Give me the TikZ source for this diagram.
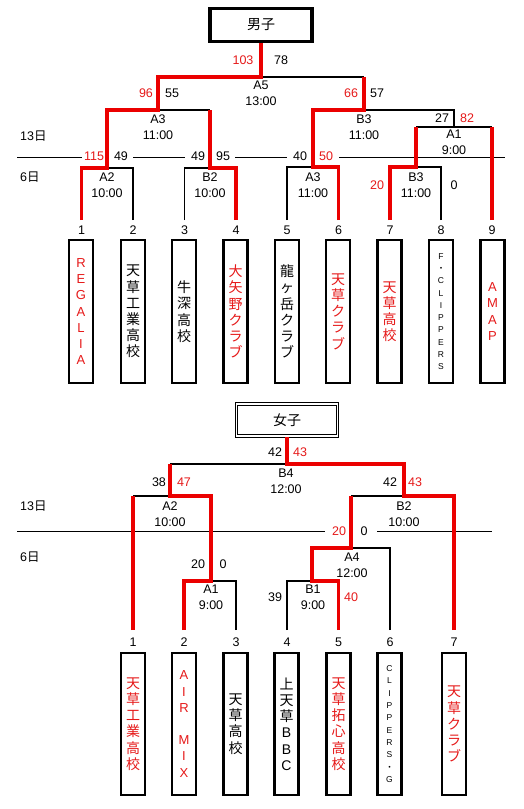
\documentclass[tikz,border=0pt]{standalone}
\usepackage{fontspec}
\setmainfont{Liberation Sans}
\newfontfamily\jp{Noto Sans CJK JP}
\definecolor{wred}{RGB}{235,0,0}
\definecolor{tred}{RGB}{230,25,25}
\begin{document}
\begin{tikzpicture}[x=1pt,y=-1pt,
  blk/.style={line width=1.3pt, black},
  win/.style={line width=3.6pt, wred},
  sc/.style={font=\fontsize{12.5}{14}\selectfont, inner sep=0pt},
  scr/.style={sc, text=tred},
  mlab/.style={font=\fontsize{12.5}{16}\selectfont, align=center, inner sep=0pt},
  num/.style={font=\fontsize{12.5}{14}\selectfont, inner sep=0pt},
  team/.style={draw, line width=2.2pt, minimum width=24pt, inner sep=0pt, anchor=north, align=center},
  mteam/.style={team, minimum height=143pt},
  fteam/.style={team, minimum height=142pt},
  vj/.style={font=\jp\fontsize{14}{16.2}\selectfont},
  vl/.style={font=\fontsize{13}{16.2}\selectfont},
  vs/.style={font=\fontsize{8.5}{12.3}\selectfont},
  rt/.style={text=tred},
  day/.style={font=\fontsize{12.5}{14}\selectfont, anchor=west, inner sep=0pt},
  divl/.style={line width=1pt}
]
\useasboundingbox (0,0) rectangle (524,809);
\fill[white] (0,0) rectangle (524,809);

% ================= MALE =================
\node[draw, line width=3.3pt, minimum width=102pt, minimum height=33pt, inner sep=0pt,
      font=\jp\fontsize{14}{16}\selectfont] (mt) at (261,25) {男子};

\node[day] (d13m) at (20,136) {13{\jp 日}};
\node[day] (d6m) at (20,177) {6{\jp 日}};

\coordinate (dm0) at (17,157);
\coordinate (dm1) at (82,157);
\coordinate (dm2) at (133,157);
\coordinate (dm3) at (185,157);
\coordinate (dm4) at (235,157);
\coordinate (dm5) at (287,157);
\coordinate (dm6) at (339,157);
\coordinate (dm7) at (505,157);
\draw[divl] (dm0) -- (dm1) (dm2) -- (dm3) (dm4) -- (dm5) (dm6) -- (dm7);

% team line ends
\coordinate (m1e) at (81.5,220);
\coordinate (m2e) at (133,220);
\coordinate (m3e) at (184.5,220);
\coordinate (m4e) at (236,220);
\coordinate (m5e) at (287,220);
\coordinate (m6e) at (338.5,220);
\coordinate (m7e) at (390,220);
\coordinate (m8e) at (441,220);
\coordinate (m9e) at (492,220);
% junctions
\coordinate (jA2) at (107,168);
\coordinate (jB2) at (210,168);
\coordinate (jA3b) at (313,167);
\coordinate (jB3b) at (416,167);
\coordinate (jA1) at (454,127);
\coordinate (jA3) at (158,110);
\coordinate (jB3) at (364,110);
\coordinate (jA5) at (261,77);

% black lines
\draw[blk] (m2e) |- (jA2);
\draw[blk] (m3e) |- (jB2);
\draw[blk] (m5e) |- (jA3b);
\draw[blk] (m8e) |- (jB3b);
\draw[blk] (jB3b |- jA1) -- (m9e |- jA1);
\draw[blk] (jA1) -- (jA1 |- jB3) -- (jB3);
\draw[blk] (jA3) -- (jB2 |- jA3);
\draw[blk] (jA5) -- (jB3 |- jA5);
% red lines
\draw[win] (m1e) |- (jA2) |- (jA3) |- (jA5) -- (mt.south);
\draw[win] (m4e) |- (jB2) -- (jB2 |- jA3);
\draw[win] (m6e) |- (jA3b) |- (jB3) -- (jB3 |- jA5);
\draw[win] (m7e) |- (jB3b) -- (jB3b |- jA1);
\draw[win] (m9e) -- (m9e |- jA1);

% scores
\node[scr] (s103) at (243,60) {103};
\node[sc] (s78) at (281,60) {78};
\node[scr] (s96) at (146,93) {96};
\node[sc] (s55) at (172,93) {55};
\node[scr] (s66) at (351,93) {66};
\node[sc] (s57) at (377,93) {57};
\node[sc] (s27) at (442,118) {27};
\node[scr] (s82) at (467,118) {82};
\node[scr] (s115) at (94,156) {115};
\node[sc] (s49a) at (121,156) {49};
\node[sc] (s49b) at (198,156) {49};
\node[sc] (s95) at (223,156) {95};
\node[sc] (s40) at (300,156) {40};
\node[scr] (s50) at (326,156) {50};
\node[scr] (s20) at (377,185) {20};
\node[sc] (s0) at (454,185) {0};

% match labels
\node[mlab] (lA5) at (261,93.5) {A5\\13:00};
\node[mlab] (lA3) at (158,127) {A3\\11:00};
\node[mlab] (lB3) at (364,127) {B3\\11:00};
\node[mlab] (lA1) at (454,142.5) {A1\\9:00};
\node[mlab] (lA2) at (107,185) {A2\\10:00};
\node[mlab] (lB2) at (210,185) {B2\\10:00};
\node[mlab] (lA3b) at (313,185) {A3\\11:00};
\node[mlab] (lB3b) at (416,185) {B3\\11:00};

% numbers
\foreach \i/\x in {1/81.5,2/133,3/184.5,4/236,5/287,6/338.5,7/390,8/441,9/492}
  \node[num] (mn\i) at (\x,230) {\i};

% team boxes
\node[mteam, vl, rt] (mT1) at (81,239) {R\\E\\G\\A\\L\\I\\A};
\node[mteam, vj] (mT2) at (133,239) {天\\草\\工\\業\\高\\校};
\node[mteam, vj] (mT3) at (184,239) {牛\\深\\高\\校};
\node[mteam, vj, rt] (mT4) at (235.5,239) {大\\矢\\野\\ク\\ラ\\ブ};
\node[mteam, vj] (mT5) at (287,239) {龍\\ヶ\\岳\\ク\\ラ\\ブ};
\node[mteam, vj, rt] (mT6) at (338,239) {天\\草\\ク\\ラ\\ブ};
\node[mteam, vj, rt] (mT7) at (389.5,239) {天\\草\\高\\校};
\node[mteam, vs] (mT8) at (441,239) {F\\{\jp ・}\\C\\L\\I\\P\\P\\E\\R\\S};
\node[mteam, vl, rt] (mT9) at (492.5,239) {A\\M\\A\\P};

% ================= FEMALE =================
\node[draw, double, double distance=1.5pt, line width=1.2pt, minimum width=101pt, minimum height=32pt, inner sep=0pt,
      font=\jp\fontsize{14}{16}\selectfont] (ft) at (287,420) {女子};

\node[day] (d13f) at (20,506) {13{\jp 日}};
\node[day] (d6f) at (20,557) {6{\jp 日}};

\coordinate (df0) at (17,531);
\coordinate (df1) at (325,531);
\coordinate (df2) at (377,531);
\coordinate (df3) at (492,531);
\draw[divl] (df0) -- (df1) (df2) -- (df3);

\coordinate (f1e) at (133,630);
\coordinate (f2e) at (184,630);
\coordinate (f3e) at (236,630);
\coordinate (f4e) at (287,630);
\coordinate (f5e) at (338.5,630);
\coordinate (f6e) at (390,630);
\coordinate (f7e) at (454,630);
\coordinate (gA1) at (211,581);
\coordinate (gB1) at (312,581);
\coordinate (gA4) at (351,548);
\coordinate (gA2) at (170,496);
\coordinate (gB2) at (404,496);
\coordinate (gB4) at (287,464);

% black
\draw[blk] (f3e) |- (gA1);
\draw[blk] (f4e) |- (gB1);
\draw[blk] (f6e) |- (gA4);
\draw[blk] (f1e |- gA2) -- (gA2);
\draw[blk] (gA2 |- gB4) -- (gB4);
\draw[blk] (gA4 |- gB2) -- (gB2);
% red
\draw[win] (f1e) -- (f1e |- gA2);
\draw[win] (f2e) |- (gA1) |- (gA2) -- (gA2 |- gB4);
\draw[win] (f5e) |- (gB1) |- (gA4) -- (gA4 |- gB2);
\draw[win] (f7e) |- (gB2) |- (gB4) -- (ft.south);

% scores
\node[sc] (t42a) at (275,452) {42};
\node[scr] (t43a) at (300,452) {43};
\node[sc] (t38) at (159,482) {38};
\node[scr] (t47) at (184,482) {47};
\node[sc] (t42b) at (390,482) {42};
\node[scr] (t43b) at (415,482) {43};
\node[scr] (t20a) at (339,531) {20};
\node[sc] (t0a) at (364,531) {0};
\node[sc] (t20b) at (198,564) {20};
\node[sc] (t0b) at (223,564) {0};
\node[sc] (t39) at (275,597) {39};
\node[scr] (t40) at (351,597) {40};

% match labels
\node[mlab] (kB4) at (286,481.5) {B4\\12:00};
\node[mlab] (kA2) at (170,514.5) {A2\\10:00};
\node[mlab] (kB2) at (404,514.5) {B2\\10:00};
\node[mlab] (kA4) at (352,565) {A4\\12:00};
\node[mlab] (kA1) at (211,597) {A1\\9:00};
\node[mlab] (kB1) at (313,597) {B1\\9:00};

\foreach \i/\x in {1/133,2/184,3/236,4/287,5/338.5,6/390,7/454}
  \node[num] (fn\i) at (\x,642) {\i};

\node[fteam, vj, rt] (fT1) at (133,652) {天\\草\\工\\業\\高\\校};
\node[fteam, vl, rt] (fT2) at (184,652) {A\\I\\R\\\mbox{}\\M\\I\\X};
\node[fteam, vj] (fT3) at (235.5,652) {天\\草\\高\\校};
\node[fteam, vj] (fT4) at (286.5,652) {上\\天\\草\\{\fontspec{Liberation Sans}B}\\{\fontspec{Liberation Sans}B}\\{\fontspec{Liberation Sans}C}};
\node[fteam, vj, rt] (fT5) at (338.5,652) {天\\草\\拓\\心\\高\\校};
\node[fteam, vs] (fT6) at (389.5,652) {C\\L\\I\\P\\P\\E\\R\\S\\{\jp ・}\\G};
\node[fteam, vj, rt] (fT7) at (454,652) {天\\草\\ク\\ラ\\ブ};
\end{tikzpicture}
\end{document}
